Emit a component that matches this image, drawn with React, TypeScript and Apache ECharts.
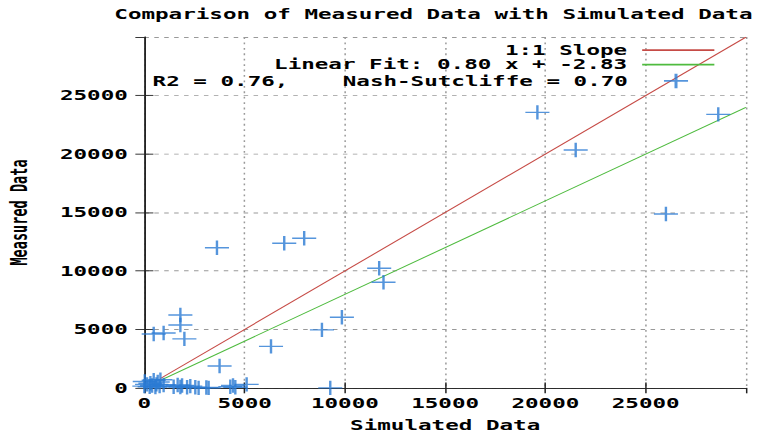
import React, { useEffect, useRef } from "react";
import * as echarts from "echarts";

// ---- data ----
const simulated = [
  3620, 6975, 7970, 11710, 11925, 9850, 8855, 6315, 3750, 1795, 1795, 465, 960, 1995,
  19600, 28620, 21510, 26010,
  135, 0, 20, 265, 300, 385, 465, 550, 600, 665, 760, 800, 960, 1460, 1660, 1795, 1880,
  2130, 2290, 2540, 2705, 3090, 3205, 4285, 4420, 4535, 5100, 9270,
];
const measured = [
  11990, 12370, 12795, 10230, 9035, 6040, 4960, 3550, 1880, 6240, 5385, 4615, 4700, 4190,
  23560, 23390, 20340, 14870,
  300, 150, 550, 100, 400, 200, 650, 80, 300, 500, 150, 700, 250, 100, 250, 80, 200,
  60, 150, 50, 0, 30, 0, 100, 200, 50, 300, 0,
];
const lineX = [800, 30000];
const slopeY = [800, 30000];
const fitY = [637, 23997];

const axisMin = 0;
const axisMax = 30000;
const axisStep = 5000;

const titleText = "Comparison of Measured Data with Simulated Data";
const xName = "Simulated Data";
const yName = "Measured Data";
const slopeName = "1:1 Slope";
const fitName = "Linear Fit: 0.80 x + -2.83";
const statsName = "R2 = 0.76,    Nash-Sutcliffe = 0.70";

const FONT = "DejaVu Sans Mono";
const RED = "#c64b46";
const GREEN = "#4fbb3f";
const BLUE = "#2a7bd3";
const CROSS = "path://M0,8H16M8,0V16";

const W = 512;
const H = 480;

export default function App() {
  const ref = useRef<HTMLDivElement>(null);
  useEffect(() => {
    document.body.style.margin = "0";
    if (!ref.current) return;
    const chart = echarts.init(ref.current, null, { renderer: "svg" });
    const points = simulated.map((x, i) => [x, measured[i]]);
    const textBase = { fontFamily: FONT, fontWeight: "bold" as const, fontSize: 15, color: "#000" };
    const tickLabel = {
      ...textBase,
      showMaxLabel: false,
      formatter: (v: number) => String(v),
    };
    const axisCommon = {
      type: "value" as const,
      min: axisMin,
      max: axisMax,
      interval: axisStep,
      axisLine: { show: true, lineStyle: { color: "#222", width: 1 } },
      axisTick: { show: true, inside: true, length: 6, lineStyle: { color: "#222", width: 1 } },
    };
    const legendCommon = {
      orient: "horizontal" as const,
      align: "right" as const,
      padding: 0,
      selectedMode: false,
      symbolKeepAspect: true,
    };
    chart.setOption({
      animation: false,
      backgroundColor: "#fff",
      title: {
        text: titleText,
        left: 76,
        top: 8,
        padding: 0,
        textStyle: { ...textBase },
      },
      legend: [
        {
          ...legendCommon,
          right: 37,
          top: 47.5,
          itemWidth: 48,
          itemHeight: 2,
          textStyle: { ...textBase, lineHeight: 16, padding: [0, 5, 0, 0] },
          data: [{ name: slopeName, icon: "rect", itemStyle: { color: RED } }],
        },
        {
          ...legendCommon,
          right: 37,
          top: 63.5,
          itemWidth: 48,
          itemHeight: 2,
          textStyle: { ...textBase, lineHeight: 16, padding: [0, 5, 0, 0] },
          data: [{ name: fitName, icon: "rect", itemStyle: { color: GREEN } }],
        },
        {
          ...legendCommon,
          right: 52,
          top: 79,
          itemWidth: 16,
          itemHeight: 16,
          textStyle: { ...textBase, lineHeight: 16, padding: [0, 19, 0, 0] },
          data: [{ name: statsName, icon: CROSS }],
        },
      ],
      grid: {
        left: 96,
        right: 16,
        top: 41,
        bottom: 51,
        show: false,
        containLabel: false,
        outerBoundsMode: "none",
      },
      xAxis: [
        {
          ...axisCommon,
          position: "bottom",
          name: xName,
          nameLocation: "middle",
          nameGap: 34,
          nameTextStyle: { ...textBase },
          axisLabel: { ...tickLabel, margin: 9 },
          splitLine: { show: true, lineStyle: { color: "#999", width: 1, type: [2, 4] } },
        },
        {
          ...axisCommon,
          position: "top",
          axisLabel: { show: false },
          splitLine: { show: false },
        },
      ],
      yAxis: [
        {
          ...axisCommon,
          position: "left",
          name: yName,
          nameLocation: "middle",
          nameGap: 76,
          nameTextStyle: { ...textBase },
          axisLabel: { ...tickLabel, margin: 11 },
          splitLine: { show: true, lineStyle: { color: "#999", width: 1, type: [3, 3.6] } },
        },
        {
          ...axisCommon,
          position: "right",
          axisLabel: { show: false },
          splitLine: { show: false },
        },
      ],
      series: [
        {
          name: slopeName,
          type: "line",
          xAxisIndex: 0,
          yAxisIndex: 0,
          symbol: "none",
          data: lineX.map((x, i) => [x, slopeY[i]]),
          lineStyle: { color: RED, width: 1 },
          itemStyle: { color: RED },
          z: 3,
        },
        {
          name: fitName,
          type: "line",
          xAxisIndex: 0,
          yAxisIndex: 0,
          symbol: "none",
          data: lineX.map((x, i) => [x, fitY[i]]),
          lineStyle: { color: GREEN, width: 1 },
          itemStyle: { color: GREEN },
          z: 3,
        },
        {
          name: statsName,
          type: "scatter",
          xAxisIndex: 0,
          yAxisIndex: 0,
          clip: false,
          symbol: CROSS,
          symbolSize: 16,
          data: points,
          itemStyle: { color: "none", borderColor: BLUE, borderWidth: 1.6 },
          z: 4,
        },
      ],
    });
    return () => chart.dispose();
  }, []);
  return (
    <div
      style={{
        position: "fixed",
        left: 0,
        top: 0,
        width: 770,
        height: 434,
        overflow: "hidden",
        background: "#fff",
      }}
    >
      <div
        ref={ref}
        style={{
          width: W,
          height: H,
          transform: `scale(${770 / W}, ${434 / H})`,
          transformOrigin: "0 0",
        }}
      />
    </div>
  );
}
